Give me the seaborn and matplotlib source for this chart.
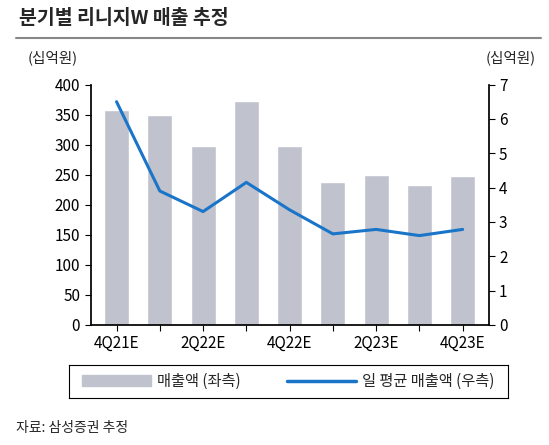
import matplotlib
matplotlib.use("Agg")
import matplotlib.pyplot as plt
import seaborn as sns
import pandas as pd
from matplotlib.lines import Line2D
from matplotlib.patches import Patch

quarters = ["4Q21E","1Q22E","2Q22E","3Q22E","4Q22E","1Q23E","2Q23E","3Q23E","4Q23E"]
sales = [357, 350, 297, 372, 297, 238, 249, 233, 248]
daily = [6.5, 3.9, 3.3, 4.15, 3.35, 2.65, 2.78, 2.6, 2.78]
tick_labels = ["4Q21E","","2Q22E","","4Q22E","","2Q23E","","4Q23E"]

sns.set_theme(style="white")
plt.rcParams['font.family'] = ['Noto Sans CJK KR', 'DejaVu Sans']

df = pd.DataFrame({"q": quarters, "sales": sales, "daily": daily})
fig = plt.figure(figsize=(5.49, 4.45), dpi=100)
ax = fig.add_axes([0.165, 0.27, 0.725, 0.54])
sns.barplot(data=df, x="q", y="sales", color="#c0c2ce", width=0.58, ax=ax, saturation=1)
ax.set_ylim(0, 400)
ax.set_yticks(range(0, 401, 50))
ax.set_xticks(range(len(quarters)))
ax.set_xticklabels(tick_labels)
ax.set_xlabel(""); ax.set_ylabel("")
ax2 = ax.twinx()
ax2.plot(range(len(quarters)), daily, color="#1a75c8", lw=2.2)
ax2.set_ylim(0, 7)
ax2.set_yticks(range(0, 8))
ax.set_xlim(-0.6, 8.6)
for a in (ax, ax2):
    for s in a.spines.values():
        s.set_visible(False)
    a.tick_params(labelsize=11, colors="black", length=4, width=0.8)
ax.spines["left"].set_visible(True); ax.spines["left"].set_color("black")
ax.spines["bottom"].set_visible(True); ax.spines["bottom"].set_color("black")
ax2.spines["right"].set_visible(True); ax2.spines["right"].set_color("black")
ax.tick_params(axis="y", left=True, direction="out")
ax.tick_params(axis="x", bottom=True, direction="out")
ax2.tick_params(axis="y", right=True, direction="out")

fig.text(0.035, 0.945, "분기별 리니지W 매출 추정", fontsize=14, fontweight="bold")
fig.add_artist(Line2D([0.03, 0.985], [0.915, 0.915], color="#888888", lw=1.5))
fig.text(0.05, 0.86, "(십억원)", fontsize=10.5)
fig.text(0.975, 0.86, "(십억원)", fontsize=10.5, ha="right")

lax = fig.add_axes([0.125, 0.105, 0.8, 0.075])
lax.set_xticks([]); lax.set_yticks([])
for s in lax.spines.values():
    s.set_color("black"); s.set_linewidth(0.8)
handles = [Patch(color="#c0c2ce"), Line2D([], [], color="#1a75c8", lw=2.5)]
lax.legend(handles, ["매출액 (좌측)", "일 평균 매출액 (우측)"], loc="center", ncol=2,
           frameon=False, fontsize=11, handlelength=4.5, handletextpad=0.4, columnspacing=3)
fig.text(0.03, 0.03, "자료: 삼성증권 추정", fontsize=10)
fig.savefig("out.png", dpi=100)
